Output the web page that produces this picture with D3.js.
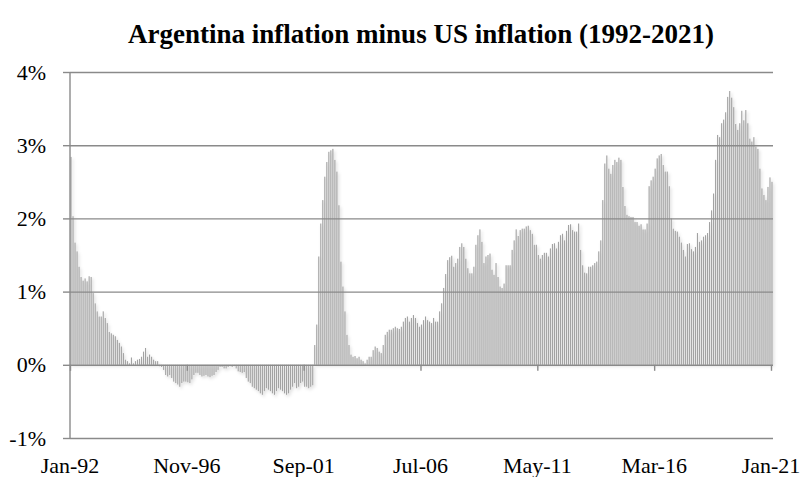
<!DOCTYPE html>
<html>
<head>
<meta charset="utf-8">
<script src="https://cdn.jsdelivr.net/npm/d3@7"></script>
<style>
  body { margin: 0; background: #fff; }
  text { font-family: "Liberation Serif", "Times New Roman", serif; fill: #000; }
</style>
</head>
<body>
<svg></svg>
<script>
const width = 803;
const height = 477;

// monthly values, Jan-92 .. Jan-21 (percent)
const values = [
  2.84, 2.03, 1.67, 1.55, 1.34, 1.20, 1.15, 1.18, 1.14, 1.21, 1.20, 0.98,
  0.84, 0.73, 0.66, 0.66, 0.73, 0.64, 0.57, 0.45, 0.43, 0.41, 0.39, 0.34,
  0.30, 0.25, 0.16, 0.07, 0.05, 0.02, 0.10, 0.02, 0.05, 0.07, 0.08, 0.11,
  0.18, 0.23, 0.11, 0.14, 0.11, 0.07, 0.05, 0.05, -0.02, -0.03, -0.07, -0.14,
  -0.16, -0.14, -0.18, -0.23, -0.25, -0.27, -0.30, -0.25, -0.23, -0.23, -0.24, -0.25,
  -0.20, -0.14, -0.11, -0.11, -0.14, -0.16, -0.15, -0.14, -0.16, -0.17, -0.15, -0.14,
  -0.10, -0.07, -0.03, -0.03, -0.05, -0.05, -0.03, -0.02, -0.03, -0.02, -0.05, -0.09,
  -0.10, -0.11, -0.10, -0.18, -0.23, -0.25, -0.30, -0.32, -0.34, -0.36, -0.39, -0.41,
  -0.36, -0.32, -0.34, -0.36, -0.39, -0.41, -0.36, -0.32, -0.34, -0.36, -0.39, -0.41,
  -0.39, -0.34, -0.30, -0.25, -0.32, -0.30, -0.25, -0.23, -0.30, -0.30, -0.32, -0.30,
  -0.28, 0.27, 0.55, 1.48, 1.93, 2.25, 2.57, 2.77, 2.91, 2.93, 2.95, 2.80,
  2.64, 2.18, 1.41, 1.07, 0.73, 0.41, 0.27, 0.14, 0.11, 0.12, 0.09, 0.11,
  0.07, 0.05, 0.02, 0.07, 0.11, 0.11, 0.20, 0.25, 0.23, 0.18, 0.16, 0.27,
  0.41, 0.45, 0.48, 0.48, 0.50, 0.52, 0.50, 0.49, 0.52, 0.59, 0.64, 0.66,
  0.59, 0.64, 0.68, 0.64, 0.57, 0.52, 0.55, 0.61, 0.66, 0.61, 0.59, 0.57,
  0.64, 0.59, 0.59, 0.73, 0.84, 1.05, 1.24, 1.43, 1.47, 1.49, 1.34, 1.39,
  1.45, 1.61, 1.66, 1.61, 1.45, 1.32, 1.25, 1.25, 1.34, 1.64, 1.77, 1.85,
  1.68, 1.39, 1.48, 1.50, 1.52, 1.30, 1.23, 1.39, 1.20, 1.07, 1.05, 1.11,
  1.36, 1.36, 1.36, 1.57, 1.70, 1.85, 1.76, 1.84, 1.86, 1.86, 1.89, 1.90,
  1.84, 1.79, 1.64, 1.64, 1.50, 1.45, 1.50, 1.53, 1.53, 1.48, 1.59, 1.65,
  1.66, 1.59, 1.68, 1.77, 1.79, 1.70, 1.83, 1.91, 1.92, 1.84, 1.82, 1.82,
  1.93, 1.57, 1.36, 1.26, 1.25, 1.34, 1.34, 1.36, 1.39, 1.41, 1.55, 1.70,
  2.25, 2.75, 2.86, 2.68, 2.61, 2.73, 2.80, 2.77, 2.83, 2.80, 2.43, 2.17,
  2.05, 2.03, 2.02, 2.02, 1.95, 1.95, 1.90, 1.92, 1.85, 1.85, 1.93, 2.44,
  2.52, 2.57, 2.68, 2.82, 2.86, 2.88, 2.73, 2.64, 2.64, 2.44, 2.00, 1.86,
  1.83, 1.82, 1.75, 1.67, 1.57, 1.48, 1.65, 1.66, 1.58, 1.55, 1.61, 1.80,
  1.68, 1.70, 1.75, 1.77, 1.80, 1.95, 2.11, 2.34, 2.80, 3.14, 3.11, 3.30,
  3.35, 3.45, 3.66, 3.74, 3.65, 3.52, 3.29, 3.21, 3.30, 3.47, 3.34, 3.48,
  3.30, 3.09, 3.05, 3.11, 2.98, 2.95, 2.68, 2.41, 2.32, 2.25, 2.43, 2.56,
  2.50
];

const months = d3.timeMonth.range(new Date(1992, 0, 1), new Date(2021, 1, 1));
const tickIndex = [0, 58, 116, 174, 232, 290, 348];
const yTicks = [-1, 0, 1, 2, 3, 4];

const margin = { top: 72, right: 30, bottom: 39, left: 70 };
const plotW = width - margin.left - margin.right;

const svg = d3.select('svg')
  .attr('width', width)
  .attr('height', height);

const x = d3.scaleLinear()
  .domain([0, months.length])
  .range([margin.left, margin.left + plotW]);

const y = d3.scaleLinear()
  .domain([-1, 4])
  .range([height - margin.bottom, margin.top]);

const step = x(1) - x(0);
const barW = step * 0.55;

// soft shadow like the original
const defs = svg.append('defs');
defs.append('filter')
  .attr('id', 'shadow')
  .attr('x', '-5%').attr('y', '-5%')
  .attr('width', '110%').attr('height', '115%')
  .append('feDropShadow')
  .attr('dx', 1.5).attr('dy', 2)
  .attr('stdDeviation', 1.5)
  .attr('flood-color', '#000')
  .attr('flood-opacity', 0.18);

svg.append('g')
  .attr('filter', 'url(#shadow)')
  .selectAll('rect')
  .data(values)
  .enter()
  .append('rect')
  .attr('x', (d, i) => x(i) + (step - barW) / 2)
  .attr('width', barW)
  .attr('y', d => y(Math.max(0, d)))
  .attr('height', d => Math.abs(y(d) - y(0)))
  .attr('fill', '#a2a2a2');

// horizontal gridlines + y axis
const yAxis = svg.append('g')
  .attr('transform', `translate(${margin.left},0)`)
  .call(d3.axisLeft(y)
    .tickValues(yTicks)
    .tickSize(7)
    .tickPadding(17)
    .tickFormat(d => d + '%'));

yAxis.selectAll('.tick line').clone()
  .attr('x1', 0)
  .attr('x2', plotW);

yAxis.select('.domain').remove();
yAxis.append('line')
  .attr('y1', y(-1)).attr('y2', y(4))
  .attr('stroke', '#8a8a8a');

yAxis.selectAll('line')
  .attr('stroke', '#8a8a8a')
  .attr('stroke-width', 1.4);

yAxis.selectAll('text')
  .attr('font-size', 22);

// category ticks sitting on the zero line
const xAxis = svg.append('g')
  .attr('transform', `translate(0,${y(0)})`)
  .call(d3.axisBottom(x)
    .tickValues(tickIndex)
    .tickSize(6)
    .tickFormat(''));

xAxis.select('.domain').remove();
xAxis.selectAll('line')
  .attr('stroke', '#8a8a8a')
  .attr('stroke-width', 1.4);

// category labels below the plot
svg.append('g')
  .selectAll('text')
  .data(tickIndex)
  .enter()
  .append('text')
  .attr('x', d => x(d))
  .attr('y', 473)
  .attr('text-anchor', 'middle')
  .attr('font-size', 22)
  .text(d => d3.timeFormat('%b-%y')(months[d]));

svg.append('text')
  .attr('x', 421)
  .attr('y', 43)
  .attr('text-anchor', 'middle')
  .attr('font-size', 27)
  .attr('font-weight', 'bold')
  .text('Argentina inflation minus US inflation (1992-2021)');
</script>
</body>
</html>
